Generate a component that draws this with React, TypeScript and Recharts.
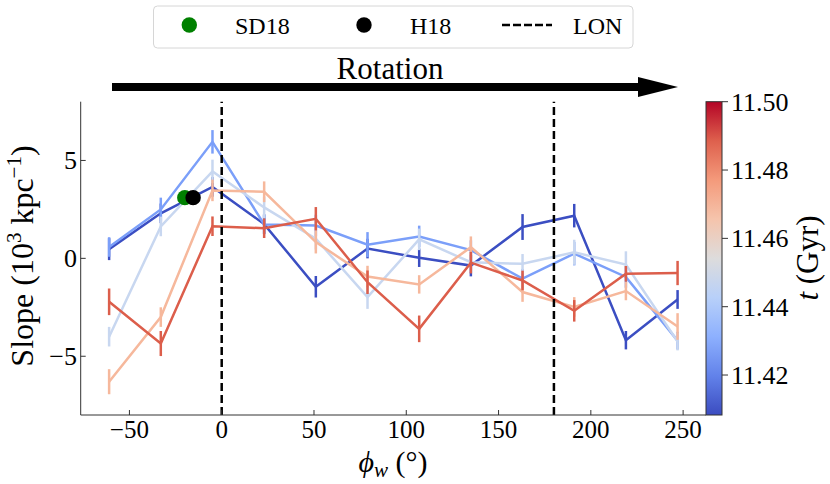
import React from 'react';
import { ComposedChart, Line, ErrorBar, XAxis, YAxis, ReferenceLine, Scatter } from 'recharts';

// phi_w bin centres (deg)
const phi = [-61, -33, -5, 23, 51, 79, 107, 135, 163, 191, 219, 247];

// slope (10^3 kpc^-1) per snapshot time, with 1-sigma errors
const slope1141 = [0.47, 2.3, 3.65, 1.75, -1.45, 0.5, 0.03, -0.37, 1.6, 2.18, -4.18, -2.1];
const err1141 = [0.56, 0.5, 0.5, 0.5, 0.55, 0.5, 0.47, 0.55, 0.66, 0.6, 0.47, 0.48];

const slope1143 = [0.58, 2.5, 5.95, 1.73, 1.68, 0.7, 1.12, 0.42, -1.04, 0.24, -0.95, -4.2];
const err1143 = [0.5, 0.6, 0.6, 0.5, 0.55, 0.64, 0.55, 0.5, 0.5, 0.6, 0.55, 0.45];

const slope1145 = [-4.0, 1.63, 4.44, 2.6, 1.0, -1.98, 0.97, -0.2, -0.28, 0.31, -0.32, -4.25];
const err1145 = [0.5, 0.5, 0.6, 0.55, 0.55, 0.6, 0.55, 0.5, 0.5, 0.64, 0.68, 0.45];

const slope1147 = [-6.3, -3.0, 3.47, 3.4, 0.83, -0.93, -1.33, 0.57, -1.72, -2.48, -1.67, -3.48];
const err1147 = [0.64, 0.5, 0.55, 0.53, 0.58, 0.55, 0.47, 0.55, 0.5, 0.5, 0.47, 0.68];

const slope1149 = [-2.22, -4.35, 1.64, 1.54, 2.02, -1.22, -3.6, -0.22, -1.13, -2.68, -0.79, -0.75];
const err1149 = [0.68, 0.64, 0.5, 0.5, 0.6, 0.6, 0.68, 0.55, 0.5, 0.55, 0.4, 0.62];

const sd18 = [{ phi: -20, slope: 3.1 }];
const h18 = [{ phi: -15.5, slope: 3.1 }];
const lonLines = [0, 180];

const xTicks = [-50, 0, 50, 100, 150, 200, 250];
const yTicks = [-5, 0, 5];
const cbTicks = [11.42, 11.44, 11.46, 11.48, 11.5];
const cbRange = [11.4083, 11.5];

const series = [
  { key: 't1141', slope: slope1141, err: err1141, color: '#3b4ec2' },
  { key: 't1143', slope: slope1143, err: err1143, color: '#7b9ff9' },
  { key: 't1145', slope: slope1145, err: err1145, color: '#c8d7f0' },
  { key: 't1147', slope: slope1147, err: err1147, color: '#f6b89c' },
  { key: 't1149', slope: slope1149, err: err1149, color: '#dc5e4b' },
];

const rows = phi.map((p, i) => {
  const r: Record<string, number> = { phi: p };
  series.forEach((s) => {
    r[`s_${s.key}`] = s.slope[i];
    r[`e_${s.key}`] = s.err[i];
  });
  return r;
});

// coolwarm anchors, bottom -> top
const coolwarm = ['#3b4cc0', '#6282ea', '#8db0fe', '#b8d0f9', '#dddcdc', '#f5c4ac', '#f49a7b', '#de604d', '#b40426'];

const W = 830;
const H = 484;
const LEFT = 80.7;
const RIGHT = 706;
const TOP = 101.7;
const BOTTOM = 415;
const FONT = 'Liberation Serif';
const AXIS = '#333';

const fmt = (v: number) => (v < 0 ? `\u2212${Math.abs(v)}` : `${v}`);

const BottomTick = (p: any) => (
  <g>
    <line x1={p.x} x2={p.x} y1={BOTTOM} y2={BOTTOM - 5} stroke={AXIS} />
    <text x={p.x} y={438} textAnchor="middle" fontFamily={FONT} fontSize={25} fill="#000">
      {fmt(p.payload.value)}
    </text>
  </g>
);
const TopTick = (p: any) => <line x1={p.x} x2={p.x} y1={TOP} y2={TOP + 5} stroke={AXIS} />;
const LeftTick = (p: any) => (
  <g>
    <line x1={LEFT} x2={LEFT + 5} y1={p.y} y2={p.y} stroke={AXIS} />
    <text x={77} y={p.y + 9} textAnchor="end" fontFamily={FONT} fontSize={26} fill="#000">
      {fmt(p.payload.value)}
    </text>
  </g>
);
const RightTick = (p: any) => <line x1={RIGHT} x2={RIGHT - 5} y1={p.y} y2={p.y} stroke={AXIS} />;

const dot = (fill: string) => (p: any) => <circle cx={p.cx} cy={p.cy} r={7.7} fill={fill} />;

const Overlay = () => {
  const cbH = BOTTOM - TOP;
  const cbY = (v: number) => TOP + ((cbRange[1] - v) / (cbRange[1] - cbRange[0])) * cbH;
  return (
    <svg width={W} height={H} style={{ position: 'absolute', left: 0, top: 0, pointerEvents: 'none' }}>
      <defs>
        <linearGradient id="cw" x1="0" y1="1" x2="0" y2="0">
          {coolwarm.map((c, i) => (
            <stop key={c} offset={i / (coolwarm.length - 1)} stopColor={c} />
          ))}
        </linearGradient>
      </defs>

      {/* legend */}
      <rect x={153.5} y={6} width={479.5} height={42} rx={4} fill="#fff" stroke="#d6d6d6" />
      <circle cx={189.3} cy={25} r={7.7} fill="#008000" />
      <text x={235} y={33.5} fontFamily={FONT} fontSize={24}>SD18</text>
      <circle cx={364} cy={25} r={7.7} fill="#000" />
      <text x={410} y={33.5} fontFamily={FONT} fontSize={24}>H18</text>
      <line x1={502} x2={552} y1={25} y2={25} stroke="#000" strokeWidth={2.5} strokeDasharray="8 3" />
      <text x={573} y={33.5} fontFamily={FONT} fontSize={24}>LON</text>

      {/* rotation arrow */}
      <text x={390} y={79} textAnchor="middle" fontFamily={FONT} fontSize={31}>Rotation</text>
      <rect x={112} y={83} width={528} height={8} fill="#000" />
      <polygon points="638,77 678,87 638,97" fill="#000" />

      {/* axis labels */}
      <text transform="translate(33 256) rotate(-90)" textAnchor="middle" fontFamily={FONT} fontSize={32}>
        Slope (10<tspan dy={-12} fontSize={21}>3</tspan>
        <tspan dy={12}> kpc</tspan>
        <tspan dy={-12} fontSize={21}>{'\u22121'}</tspan>
        <tspan dy={12}>)</tspan>
      </text>
      <text x={393} y={472} textAnchor="middle" fontFamily={FONT} fontSize={30}>
        <tspan fontStyle="italic">{'\u03d5'}</tspan>
        <tspan fontStyle="italic" fontSize={21} dy={5}>w</tspan>
        <tspan dy={-5}> (°)</tspan>
      </text>

      {/* colorbar */}
      <rect x={RIGHT} y={TOP} width={16} height={cbH} fill="url(#cw)" stroke={AXIS} strokeWidth={1} />
      {cbTicks.map((t) => (
        <g key={t}>
          <line x1={RIGHT + 16} x2={RIGHT + 22} y1={cbY(t)} y2={cbY(t)} stroke={AXIS} />
          <text x={731} y={cbY(t) + 9} fontFamily={FONT} fontSize={26}>{t.toFixed(2)}</text>
        </g>
      ))}
      <text transform="translate(818 258) rotate(-90)" textAnchor="middle" fontFamily={FONT} fontSize={31}>
        <tspan fontStyle="italic">t</tspan> (Gyr)
      </text>
    </svg>
  );
};

export default function App() {
  return (
    <div style={{ position: 'relative', width: W, height: H, background: '#fff' }}>
      <style>{'body{margin:0}'}</style>
      <ComposedChart
        width={W}
        height={H}
        data={rows}
        margin={{ top: TOP, right: W - RIGHT, bottom: 0, left: 0 }}
      >
        <XAxis
          xAxisId="b"
          dataKey="phi"
          type="number"
          domain={[-76.4, 262.4]}
          allowDataOverflow
          ticks={xTicks}
          height={H - BOTTOM}
          axisLine={{ stroke: AXIS }}
          tickLine={false}
          tick={BottomTick}
          interval={0}
        />
        <XAxis
          xAxisId="t"
          orientation="top"
          dataKey="phi"
          type="number"
          domain={[-76.4, 262.4]}
          allowDataOverflow
          ticks={xTicks}
          height={0}
          axisLine={{ stroke: AXIS }}
          tickLine={false}
          tick={TopTick}
          interval={0}
        />
        <YAxis
          yAxisId="l"
          type="number"
          domain={[-8, 8]}
          allowDataOverflow
          ticks={yTicks}
          width={LEFT}
          axisLine={{ stroke: AXIS }}
          tickLine={false}
          tick={LeftTick}
          interval={0}
        />
        <YAxis
          yAxisId="r"
          orientation="right"
          type="number"
          domain={[-8, 8]}
          allowDataOverflow
          ticks={yTicks}
          width={0}
          axisLine={{ stroke: AXIS }}
          tickLine={false}
          tick={RightTick}
          interval={0}
        />
        {series.map((s) => (
          <Line
            key={s.key}
            xAxisId="b"
            yAxisId="l"
            dataKey={`s_${s.key}`}
            stroke={s.color}
            strokeWidth={2.5}
            dot={false}
            activeDot={false}
            isAnimationActive={false}
          >
            <ErrorBar
              dataKey={`e_${s.key}`}
              direction="y"
              width={0}
              stroke={s.color}
              strokeWidth={2.5}
              isAnimationActive={false}
            />
          </Line>
        ))}
        {lonLines.map((x) => (
          <ReferenceLine
            key={x}
            xAxisId="b"
            yAxisId="l"
            x={x}
            stroke="#000"
            strokeWidth={2.5}
            strokeDasharray="8 4"
          />
        ))}
        <Scatter xAxisId="b" yAxisId="l" data={sd18} dataKey="slope" shape={dot('#008000')} isAnimationActive={false} />
        <Scatter xAxisId="b" yAxisId="l" data={h18} dataKey="slope" shape={dot('#000')} isAnimationActive={false} />
      </ComposedChart>
      <Overlay />
    </div>
  );
}
